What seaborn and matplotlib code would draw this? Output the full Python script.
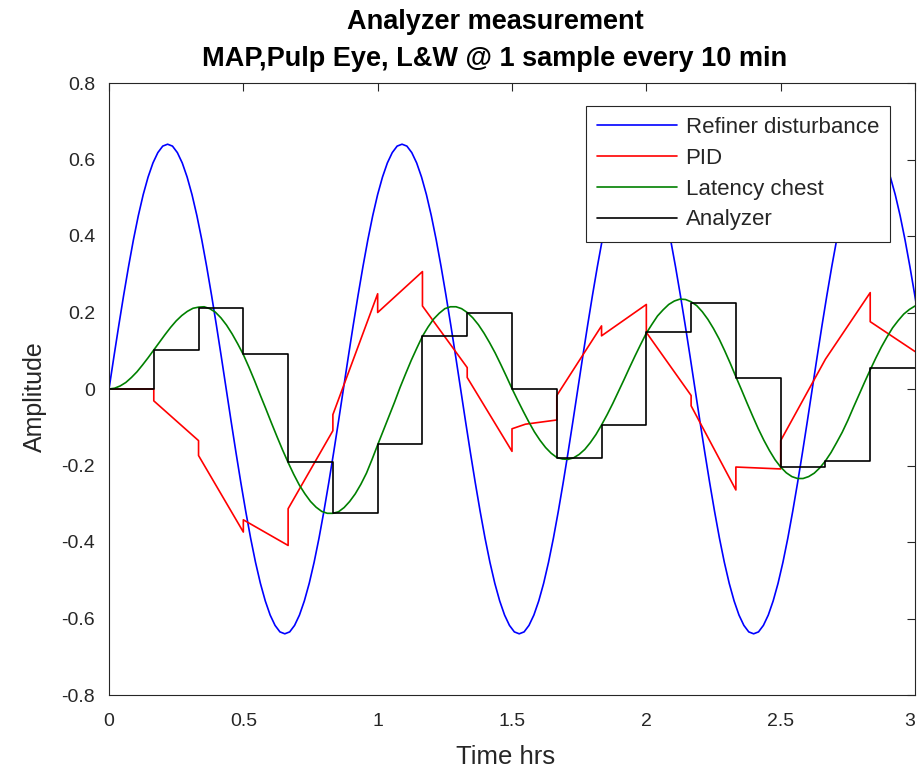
import numpy as np
import pandas as pd
import matplotlib
matplotlib.use("Agg")
import matplotlib.pyplot as plt
import seaborn as sns

# Refiner disturbance, read at 48 points per cycle (cycle ~0.8725 hrs)
refiner_period = 0.8725
refiner = [0.000, 0.084, 0.166, 0.245, 0.320, 0.390, 0.453, 0.508, 0.554, 0.591, 0.618, 0.635,
           0.640, 0.635, 0.618, 0.591, 0.554, 0.508, 0.453, 0.390, 0.320, 0.245, 0.166, 0.084,
           0.000, -0.084, -0.166, -0.245, -0.320, -0.390, -0.453, -0.508, -0.554, -0.591, -0.618, -0.635,
           -0.640, -0.635, -0.618, -0.591, -0.554, -0.508, -0.453, -0.390, -0.320, -0.245, -0.166, -0.084,
           0.000, 0.084, 0.166, 0.245, 0.320, 0.390, 0.453, 0.508, 0.554, 0.591, 0.618, 0.635,
           0.640, 0.635, 0.618, 0.591, 0.554, 0.508, 0.453, 0.390, 0.320, 0.245, 0.166, 0.084,
           0.000, -0.084, -0.166, -0.245, -0.320, -0.390, -0.453, -0.508, -0.554, -0.591, -0.618, -0.635,
           -0.640, -0.635, -0.618, -0.591, -0.554, -0.508, -0.453, -0.390, -0.320, -0.245, -0.166, -0.084,
           0.000, 0.084, 0.166, 0.245, 0.320, 0.390, 0.453, 0.508, 0.554, 0.591, 0.618, 0.635,
           0.640, 0.635, 0.618, 0.591, 0.554, 0.508, 0.453, 0.390, 0.320, 0.245, 0.166, 0.084,
           0.000, -0.084, -0.166, -0.245, -0.320, -0.390, -0.453, -0.508, -0.554, -0.591, -0.618, -0.635,
           -0.640, -0.635, -0.618, -0.591, -0.554, -0.508, -0.453, -0.390, -0.320, -0.245, -0.166, -0.084,
           0.000, 0.084, 0.166, 0.245, 0.320, 0.390, 0.453, 0.508, 0.554, 0.591, 0.618, 0.635,
           0.640, 0.635, 0.618, 0.591, 0.554, 0.508, 0.453, 0.390, 0.320, 0.245, 0.166]
refiner_hrs = np.arange(len(refiner)) * refiner_period / 48

# Latency chest, read every 1.25 min
chest = [0.000, 0.002, 0.008, 0.017, 0.030, 0.045, 0.063, 0.082, 0.102, 0.122, 0.142, 0.161,
         0.178, 0.192, 0.203, 0.211, 0.214, 0.215, 0.210, 0.201, 0.186, 0.167, 0.144, 0.118,
         0.090, 0.057, 0.022, -0.015, -0.051, -0.088, -0.124, -0.159, -0.192, -0.223, -0.251, -0.274,
         -0.294, -0.309, -0.320, -0.325, -0.325, -0.321, -0.310, -0.294, -0.274, -0.249, -0.220, -0.184,
         -0.146, -0.109, -0.072, -0.035, 0.004, 0.040, 0.075, 0.107, 0.138, 0.162, 0.183, 0.198,
         0.210, 0.215, 0.215, 0.210, 0.200, 0.186, 0.168, 0.146, 0.121, 0.094, 0.064, 0.033,
         0.001, -0.029, -0.058, -0.086, -0.112, -0.134, -0.153, -0.168, -0.179, -0.183, -0.184, -0.180,
         -0.171, -0.158, -0.140, -0.119, -0.094, -0.067, -0.038, -0.007, 0.024, 0.056, 0.087, 0.117,
         0.146, 0.169, 0.191, 0.207, 0.221, 0.230, 0.235, 0.234, 0.228, 0.218, 0.202, 0.182,
         0.158, 0.131, 0.100, 0.067, 0.032, -0.002, -0.037, -0.071, -0.104, -0.134, -0.161, -0.185,
         -0.204, -0.219, -0.229, -0.234, -0.234, -0.229, -0.220, -0.206, -0.188, -0.166, -0.140, -0.113,
         -0.082, -0.048, -0.015, 0.018, 0.050, 0.081, 0.110, 0.136, 0.160, 0.179, 0.196, 0.208,
         0.217]
chest_hrs = np.linspace(0, 3, len(chest))

# Analyzer, 1 sample every 10 min (held)
sample_hrs = [0, 0.1667, 0.3333, 0.5, 0.6667, 0.8333, 1.0, 1.1667, 1.3333, 1.5,
              1.6667, 1.8333, 2.0, 2.1667, 2.3333, 2.5, 2.6667, 2.8333, 3.0]
analyzer = [0.000, 0.102, 0.213, 0.091, -0.192, -0.324, -0.144, 0.139, 0.200, 0.000,
            -0.181, -0.094, 0.148, 0.226, 0.030, -0.204, -0.187, 0.055, 0.055]

# PID output, jumps at every analyzer sample
pid_hrs = [0, 0.1667, 0.1667, 0.3333, 0.3333, 0.5, 0.5, 0.6667, 0.6667, 0.8333, 0.8333,
           1.0, 1.0, 1.1667, 1.1667, 1.3333, 1.3333, 1.5, 1.5, 1.55, 1.6667, 1.6667,
           1.8333, 1.8333, 2.0, 2.0, 2.1667, 2.1667, 2.3333, 2.3333, 2.5, 2.5, 2.6667,
           2.8333, 2.8333, 3.0]
pid = [0.000, 0.000, -0.031, -0.135, -0.174, -0.374, -0.342, -0.409, -0.313, -0.109, -0.067,
       0.249, 0.200, 0.307, 0.217, 0.056, 0.030, -0.163, -0.104, -0.092, -0.081, -0.017,
       0.165, 0.139, 0.221, 0.148, -0.017, -0.044, -0.264, -0.204, -0.209, -0.135, 0.078,
       0.252, 0.176, 0.098]

xtick_vals = [0, 0.5, 1, 1.5, 2, 2.5, 3]
xtick_labels = ['0', '0.5', '1', '1.5', '2', '2.5', '3']
ytick_vals = [-0.8, -0.6, -0.4, -0.2, 0, 0.2, 0.4, 0.6, 0.8]
ytick_labels = ['-0.8', '-0.6', '-0.4', '-0.2', '0', '0.2', '0.4', '0.6', '0.8']

sns.set_theme(style="white")
plt.rcParams['font.family'] = ['Liberation Sans', 'DejaVu Sans']
ink = '#262626'

fig = plt.figure(figsize=(9.17, 7.72), dpi=100)
ax = fig.add_axes([109 / 917, 1 - 695 / 772, 806 / 917, 612 / 772])

sns.lineplot(x=refiner_hrs, y=refiner, ax=ax, color='#0000ff', lw=1.2,
             estimator=None, sort=False, label='Refiner disturbance')
sns.lineplot(x=pid_hrs, y=pid, ax=ax, color='#ff0000', lw=1.2,
             estimator=None, sort=False, label='PID')
sns.lineplot(x=chest_hrs, y=chest, ax=ax, color='#008000', lw=1.2,
             estimator=None, sort=False, label='Latency chest')
sns.lineplot(x=sample_hrs, y=analyzer, ax=ax, color='#000000', lw=1.2,
             estimator=None, sort=False, drawstyle='steps-post', label='Analyzer')

ax.set_xlim(0, 3)
ax.set_ylim(-0.8, 0.8)
ax.set_xticks(xtick_vals)
ax.set_xticklabels(xtick_labels)
ax.set_yticks(ytick_vals)
ax.set_yticklabels(ytick_labels)
ax.tick_params(direction='in', top=True, right=True, length=6, width=0.8,
               labelsize=14, colors=ink)
ax.tick_params(axis='x', pad=13)
ax.tick_params(axis='y', pad=10)
# last tick label sits on the figure edge, keep it inside
ax.get_xticklabels()[-1].set_horizontalalignment('right')
for s in ax.spines.values():
    s.set_color(ink)
    s.set_linewidth(0.8)

ax.set_xlabel('Time hrs', fontsize=18.5, color=ink)
ax.set_ylabel('Amplitude', fontsize=18, color=ink)
ax.xaxis.set_label_coords(0.4926, -0.082)
ax.yaxis.set_label_coords(-0.077, 0.487)

fig.text(495 / 917, 1 - 22 / 772, 'Analyzer measurement', ha='center', va='center',
         fontsize=19.5, fontweight='bold', color='#000000')
fig.text(495 / 917, 1 - 59 / 772, 'MAP,Pulp Eye, L&W @ 1 sample every 10 min', ha='center',
         va='center', fontsize=19.5, fontweight='bold', color='#000000')

leg = ax.legend(loc='upper right', bbox_to_anchor=(781 / 806, 589 / 612), borderaxespad=0,
                fontsize=16, frameon=True, fancybox=False, handlelength=3.6,
                handletextpad=0.4, labelspacing=0.44, borderpad=0.5)
leg.get_frame().set_edgecolor(ink)
leg.get_frame().set_linewidth(0.8)
leg.get_frame().set_alpha(1)
for t in leg.get_texts():
    t.set_color(ink)

fig.savefig('out.png', dpi=100)
